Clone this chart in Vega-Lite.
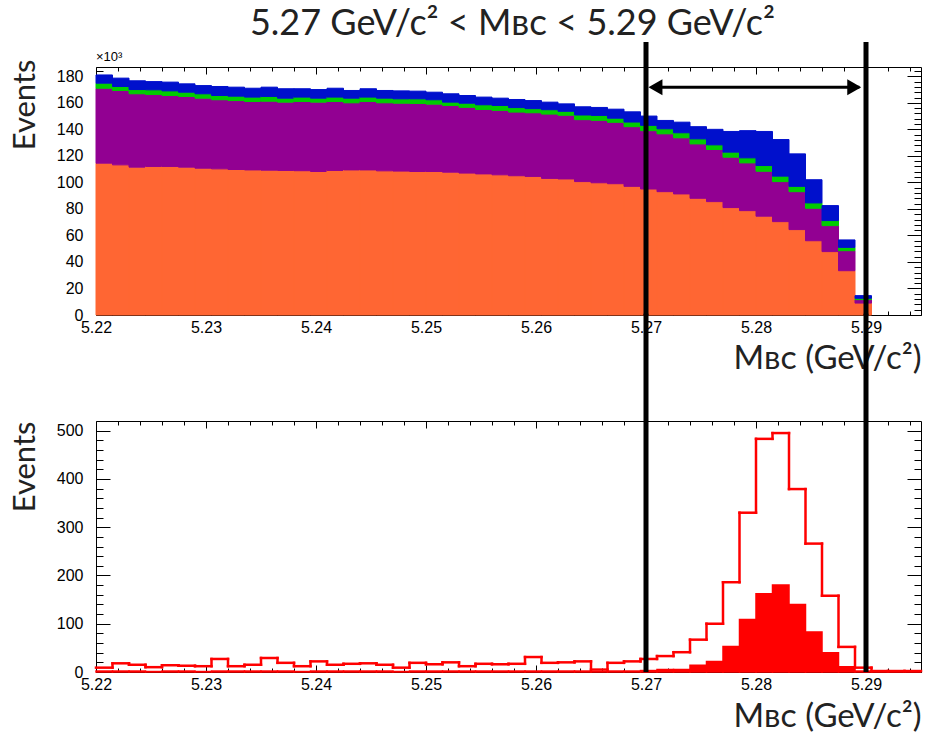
{
  "$schema": "https://vega.github.io/schema/vega-lite/v6.json",
  "background": "white",
  "padding": {"left": 9, "top": 5, "right": 0, "bottom": 0},
  "autosize": {"type": "pad"},
  "bounds": "flush",
  "spacing": 106,
  "title": {"text": "5.27 GeV/c² < Mʙᴄ < 5.29 GeV/c²", "font": "Lato", "fontSize": 36, "fontWeight": "normal", "color": "#222222", "anchor": "middle", "frame": "group", "offset": -3, "dx": 4},
  "config": {
    "view": {"stroke": null},
    "axis": {"labelFont": "Liberation Sans", "labelFontSize": 16, "labelColor": "black", "domainColor": "black", "domainWidth": 1, "tickColor": "black", "tickWidth": 1, "labelFlush": false, "labelOverlap": false, "grid": false, "zindex": 1, "titleFont": "Lato", "titleFontWeight": "normal", "titleColor": "#222222"}
  },
  "datasets": {
    "top": [
      {"lo": 5.22, "hi": 5.2215, "s1_orange": 114.5, "s2_purple": 56.5, "s3_green": 3.8, "s4_blue": 6.2},
      {"lo": 5.2215, "hi": 5.223, "s1_orange": 113.2, "s2_purple": 56.1, "s3_green": 3.0, "s4_blue": 6.3},
      {"lo": 5.223, "hi": 5.2245, "s1_orange": 111.5, "s2_purple": 55.3, "s3_green": 3.2, "s4_blue": 6.6},
      {"lo": 5.2245, "hi": 5.226, "s1_orange": 112.0, "s2_purple": 54.3, "s3_green": 3.5, "s4_blue": 6.2},
      {"lo": 5.226, "hi": 5.2275, "s1_orange": 112.0, "s2_purple": 53.5, "s3_green": 3.5, "s4_blue": 6.6},
      {"lo": 5.2275, "hi": 5.229, "s1_orange": 111.5, "s2_purple": 53.3, "s3_green": 3.2, "s4_blue": 6.3},
      {"lo": 5.229, "hi": 5.2305, "s1_orange": 110.7, "s2_purple": 52.8, "s3_green": 3.3, "s4_blue": 6.2},
      {"lo": 5.2305, "hi": 5.232, "s1_orange": 110.2, "s2_purple": 52.1, "s3_green": 3.2, "s4_blue": 6.8},
      {"lo": 5.232, "hi": 5.2335, "s1_orange": 109.7, "s2_purple": 52.0, "s3_green": 3.3, "s4_blue": 6.8},
      {"lo": 5.2335, "hi": 5.235, "s1_orange": 109.4, "s2_purple": 51.6, "s3_green": 3.3, "s4_blue": 6.7},
      {"lo": 5.235, "hi": 5.2365, "s1_orange": 109.2, "s2_purple": 52.0, "s3_green": 3.6, "s4_blue": 7.0},
      {"lo": 5.2365, "hi": 5.238, "s1_orange": 109.0, "s2_purple": 51.5, "s3_green": 3.0, "s4_blue": 7.1},
      {"lo": 5.238, "hi": 5.2395, "s1_orange": 108.8, "s2_purple": 52.2, "s3_green": 3.3, "s4_blue": 6.3},
      {"lo": 5.2395, "hi": 5.241, "s1_orange": 108.2, "s2_purple": 52.3, "s3_green": 3.0, "s4_blue": 6.5},
      {"lo": 5.241, "hi": 5.2425, "s1_orange": 109.0, "s2_purple": 52.0, "s3_green": 3.3, "s4_blue": 6.7},
      {"lo": 5.2425, "hi": 5.244, "s1_orange": 109.4, "s2_purple": 50.6, "s3_green": 3.5, "s4_blue": 5.8},
      {"lo": 5.244, "hi": 5.2455, "s1_orange": 109.4, "s2_purple": 51.6, "s3_green": 3.3, "s4_blue": 6.3},
      {"lo": 5.2455, "hi": 5.247, "s1_orange": 108.7, "s2_purple": 51.3, "s3_green": 3.5, "s4_blue": 5.8},
      {"lo": 5.247, "hi": 5.2485, "s1_orange": 108.5, "s2_purple": 51.2, "s3_green": 3.3, "s4_blue": 6.0},
      {"lo": 5.2485, "hi": 5.25, "s1_orange": 108.2, "s2_purple": 51.3, "s3_green": 3.5, "s4_blue": 5.8},
      {"lo": 5.25, "hi": 5.2515, "s1_orange": 108.2, "s2_purple": 50.8, "s3_green": 3.3, "s4_blue": 5.7},
      {"lo": 5.2515, "hi": 5.253, "s1_orange": 107.7, "s2_purple": 50.3, "s3_green": 2.5, "s4_blue": 6.3},
      {"lo": 5.253, "hi": 5.2545, "s1_orange": 107.0, "s2_purple": 49.6, "s3_green": 3.1, "s4_blue": 5.8},
      {"lo": 5.2545, "hi": 5.256, "s1_orange": 106.4, "s2_purple": 48.6, "s3_green": 3.5, "s4_blue": 5.8},
      {"lo": 5.256, "hi": 5.2575, "s1_orange": 105.7, "s2_purple": 48.6, "s3_green": 3.7, "s4_blue": 5.5},
      {"lo": 5.2575, "hi": 5.259, "s1_orange": 105.0, "s2_purple": 48.0, "s3_green": 3.4, "s4_blue": 6.1},
      {"lo": 5.259, "hi": 5.2605, "s1_orange": 104.5, "s2_purple": 48.0, "s3_green": 3.1, "s4_blue": 6.1},
      {"lo": 5.2605, "hi": 5.262, "s1_orange": 103.0, "s2_purple": 48.5, "s3_green": 3.3, "s4_blue": 5.7},
      {"lo": 5.262, "hi": 5.2635, "s1_orange": 102.6, "s2_purple": 48.0, "s3_green": 3.0, "s4_blue": 5.6},
      {"lo": 5.2635, "hi": 5.265, "s1_orange": 100.6, "s2_purple": 46.7, "s3_green": 3.5, "s4_blue": 6.2},
      {"lo": 5.265, "hi": 5.2665, "s1_orange": 99.7, "s2_purple": 47.1, "s3_green": 3.7, "s4_blue": 6.0},
      {"lo": 5.2665, "hi": 5.268, "s1_orange": 99.0, "s2_purple": 46.3, "s3_green": 3.1, "s4_blue": 6.8},
      {"lo": 5.268, "hi": 5.2695, "s1_orange": 97.0, "s2_purple": 45.0, "s3_green": 3.5, "s4_blue": 7.7},
      {"lo": 5.2695, "hi": 5.271, "s1_orange": 95.0, "s2_purple": 44.0, "s3_green": 4.0, "s4_blue": 7.0},
      {"lo": 5.271, "hi": 5.2725, "s1_orange": 93.0, "s2_purple": 43.6, "s3_green": 3.8, "s4_blue": 6.3},
      {"lo": 5.2725, "hi": 5.274, "s1_orange": 91.3, "s2_purple": 42.3, "s3_green": 3.8, "s4_blue": 8.0},
      {"lo": 5.274, "hi": 5.2755, "s1_orange": 88.0, "s2_purple": 41.0, "s3_green": 3.8, "s4_blue": 9.2},
      {"lo": 5.2755, "hi": 5.277, "s1_orange": 85.5, "s2_purple": 39.3, "s3_green": 3.5, "s4_blue": 11.7},
      {"lo": 5.277, "hi": 5.2785, "s1_orange": 81.0, "s2_purple": 38.0, "s3_green": 3.8, "s4_blue": 15.6},
      {"lo": 5.2785, "hi": 5.28, "s1_orange": 78.7, "s2_purple": 36.0, "s3_green": 3.8, "s4_blue": 20.5},
      {"lo": 5.28, "hi": 5.2815, "s1_orange": 74.5, "s2_purple": 33.9, "s3_green": 4.3, "s4_blue": 25.7},
      {"lo": 5.2815, "hi": 5.283, "s1_orange": 70.4, "s2_purple": 30.2, "s3_green": 4.1, "s4_blue": 27.6},
      {"lo": 5.283, "hi": 5.2845, "s1_orange": 64.4, "s2_purple": 28.6, "s3_green": 4.0, "s4_blue": 24.5},
      {"lo": 5.2845, "hi": 5.286, "s1_orange": 56.0, "s2_purple": 24.5, "s3_green": 4.0, "s4_blue": 17.5},
      {"lo": 5.286, "hi": 5.2875, "s1_orange": 47.8, "s2_purple": 19.6, "s3_green": 3.8, "s4_blue": 11.3},
      {"lo": 5.2875, "hi": 5.289, "s1_orange": 33.4, "s2_purple": 15.1, "s3_green": 2.5, "s4_blue": 5.6},
      {"lo": 5.289, "hi": 5.2905, "s1_orange": 9.0, "s2_purple": 2.6, "s3_green": 1.0, "s4_blue": 2.0}
    ],
    "bottom": [
      {"lo": 5.22, "hi": 5.2215, "all": 9, "sig": 2},
      {"lo": 5.2215, "hi": 5.223, "all": 18, "sig": 2},
      {"lo": 5.223, "hi": 5.2245, "all": 15, "sig": 2},
      {"lo": 5.2245, "hi": 5.226, "all": 10, "sig": 1},
      {"lo": 5.226, "hi": 5.2275, "all": 14, "sig": 2},
      {"lo": 5.2275, "hi": 5.229, "all": 13, "sig": 2},
      {"lo": 5.229, "hi": 5.2305, "all": 12, "sig": 1},
      {"lo": 5.2305, "hi": 5.232, "all": 27, "sig": 2},
      {"lo": 5.232, "hi": 5.2335, "all": 12, "sig": 2},
      {"lo": 5.2335, "hi": 5.235, "all": 15, "sig": 2},
      {"lo": 5.235, "hi": 5.2365, "all": 29, "sig": 2},
      {"lo": 5.2365, "hi": 5.238, "all": 19, "sig": 2},
      {"lo": 5.238, "hi": 5.2395, "all": 12, "sig": 1},
      {"lo": 5.2395, "hi": 5.241, "all": 22, "sig": 2},
      {"lo": 5.241, "hi": 5.2425, "all": 15, "sig": 2},
      {"lo": 5.2425, "hi": 5.244, "all": 17, "sig": 2},
      {"lo": 5.244, "hi": 5.2455, "all": 18, "sig": 2},
      {"lo": 5.2455, "hi": 5.247, "all": 15, "sig": 2},
      {"lo": 5.247, "hi": 5.2485, "all": 9, "sig": 1},
      {"lo": 5.2485, "hi": 5.25, "all": 19, "sig": 2},
      {"lo": 5.25, "hi": 5.2515, "all": 16, "sig": 2},
      {"lo": 5.2515, "hi": 5.253, "all": 20, "sig": 2},
      {"lo": 5.253, "hi": 5.2545, "all": 12, "sig": 2},
      {"lo": 5.2545, "hi": 5.256, "all": 17, "sig": 2},
      {"lo": 5.256, "hi": 5.2575, "all": 16, "sig": 2},
      {"lo": 5.2575, "hi": 5.259, "all": 17, "sig": 2},
      {"lo": 5.259, "hi": 5.2605, "all": 31, "sig": 2},
      {"lo": 5.2605, "hi": 5.262, "all": 19, "sig": 2},
      {"lo": 5.262, "hi": 5.2635, "all": 20, "sig": 2},
      {"lo": 5.2635, "hi": 5.265, "all": 22, "sig": 2},
      {"lo": 5.265, "hi": 5.2665, "all": 5, "sig": 1},
      {"lo": 5.2665, "hi": 5.268, "all": 19, "sig": 2},
      {"lo": 5.268, "hi": 5.2695, "all": 22, "sig": 2},
      {"lo": 5.2695, "hi": 5.271, "all": 27, "sig": 3},
      {"lo": 5.271, "hi": 5.2725, "all": 33, "sig": 5},
      {"lo": 5.2725, "hi": 5.274, "all": 41, "sig": 5},
      {"lo": 5.274, "hi": 5.2755, "all": 67, "sig": 14},
      {"lo": 5.2755, "hi": 5.277, "all": 100, "sig": 22},
      {"lo": 5.277, "hi": 5.2785, "all": 186, "sig": 53},
      {"lo": 5.2785, "hi": 5.28, "all": 330, "sig": 109},
      {"lo": 5.28, "hi": 5.2815, "all": 483, "sig": 162},
      {"lo": 5.2815, "hi": 5.283, "all": 495, "sig": 180},
      {"lo": 5.283, "hi": 5.2845, "all": 379, "sig": 140},
      {"lo": 5.2845, "hi": 5.286, "all": 266, "sig": 83},
      {"lo": 5.286, "hi": 5.2875, "all": 158, "sig": 40},
      {"lo": 5.2875, "hi": 5.289, "all": 52, "sig": 11},
      {"lo": 5.289, "hi": 5.2905, "all": 9, "sig": 2},
      {"lo": 5.2905, "hi": 5.292, "all": 2, "sig": 0},
      {"lo": 5.292, "hi": 5.2935, "all": 2, "sig": 0},
      {"lo": 5.2935, "hi": 5.295, "all": 2, "sig": 0}
    ]
  },
  "vconcat": [
    {
      "width": 825,
      "height": 248,
      "resolve": {"axis": {"x": "independent", "y": "independent"}},
      "layer": [
        {
          "data": {"name": "top"},
          "transform": [
            {"fold": ["s1_orange", "s2_purple", "s3_green", "s4_blue"], "as": ["comp", "n"]},
            {"stack": "n", "groupby": ["lo"], "sort": [{"field": "comp", "order": "ascending"}], "as": ["n0", "n1"]}
          ],
          "mark": {"type": "rect", "strokeWidth": 1, "opacity": 1, "fillOpacity": 1, "strokeOpacity": 1},
          "encoding": {
            "x": {"field": "lo", "type": "quantitative", "scale": {"domain": [5.22, 5.295], "nice": false, "zero": false},
              "axis": {"orient": "bottom", "values": [5.22, 5.23, 5.24, 5.25, 5.26, 5.27, 5.28, 5.29], "format": ".2f", "tickSize": -7, "labelPadding": 11, "title": "Mʙᴄ (GeV/c²)", "titleAnchor": "end", "titleFontSize": 33, "titlePadding": 7}},
            "x2": {"field": "hi"},
            "y": {"field": "n1", "type": "quantitative", "scale": {"domain": [0, 187], "nice": false},
              "axis": {"orient": "left", "values": [0, 20, 40, 60, 80, 100, 120, 140, 160, 180], "format": "d", "tickSize": -14, "labelPadding": 27, "title": "Events", "titleAnchor": "end", "titleY": -8, "titleFontSize": 31, "titlePadding": 15}},
            "y2": {"field": "n0"},
            "fill": {"field": "comp", "type": "nominal", "scale": {"domain": ["s1_orange", "s2_purple", "s3_green", "s4_blue"], "range": ["#FF6633", "#920092", "#00CC00", "#0010CC"]}, "legend": null},
            "stroke": {"field": "comp", "type": "nominal", "scale": {"domain": ["s1_orange", "s2_purple", "s3_green", "s4_blue"], "range": ["#FF6633", "#920092", "#00CC00", "#0010CC"]}, "legend": null}
          }
        },
        {
          "data": {"values": [{"m": 5.27}, {"m": 5.29}]},
          "mark": {"type": "rule", "strokeWidth": 5, "color": "black"},
          "encoding": {
            "x": {"field": "m", "type": "quantitative",
              "axis": {"orient": "bottom", "values": [5.222, 5.224, 5.226, 5.228, 5.232, 5.234, 5.236, 5.238, 5.242, 5.244, 5.246, 5.248, 5.252, 5.254, 5.256, 5.258, 5.262, 5.264, 5.266, 5.268, 5.272, 5.274, 5.276, 5.278, 5.282, 5.284, 5.286, 5.288, 5.292, 5.294], "tickSize": -4, "labels": false, "domain": false, "title": null}},
            "y": {"datum": 205.8, "type": "quantitative",
              "axis": {"orient": "left", "values": [4, 8, 12, 16, 24, 28, 32, 36, 44, 48, 52, 56, 64, 68, 72, 76, 84, 88, 92, 96, 104, 108, 112, 116, 124, 128, 132, 136, 144, 148, 152, 156, 164, 168, 172, 176, 184], "tickSize": -7, "labels": false, "domain": false, "title": null}},
            "y2": {"datum": 0}
          }
        },
        {
          "data": {"values": [{"a": 5.2706, "b": 5.2894}]},
          "mark": {"type": "rule", "strokeWidth": 3, "color": "black"},
          "encoding": {
            "x": {"field": "a", "type": "quantitative",
              "axis": {"orient": "top", "values": [5.22, 5.23, 5.24, 5.25, 5.26, 5.27, 5.28, 5.29], "tickSize": -7, "labels": false, "title": null}},
            "x2": {"field": "b"},
            "y": {"datum": 171.7, "type": "quantitative",
              "axis": {"orient": "right", "values": [0, 20, 40, 60, 80, 100, 120, 140, 160, 180], "tickSize": -14, "labels": false, "title": null}}
          }
        },
        {
          "data": {"values": [{"a": 5.27086, "dir": "left"}, {"a": 5.28893, "dir": "right"}]},
          "mark": {"type": "point", "filled": true, "size": 260, "color": "black", "opacity": 1},
          "encoding": {
            "x": {"field": "a", "type": "quantitative",
              "axis": {"orient": "top", "values": [5.222, 5.224, 5.226, 5.228, 5.232, 5.234, 5.236, 5.238, 5.242, 5.244, 5.246, 5.248, 5.252, 5.254, 5.256, 5.258, 5.262, 5.264, 5.266, 5.268, 5.272, 5.274, 5.276, 5.278, 5.282, 5.284, 5.286, 5.288, 5.292, 5.294], "tickSize": -4, "labels": false, "domain": false, "title": null}},
            "y": {"datum": 171.7, "type": "quantitative",
              "axis": {"orient": "right", "values": [4, 8, 12, 16, 24, 28, 32, 36, 44, 48, 52, 56, 64, 68, 72, 76, 84, 88, 92, 96, 104, 108, 112, 116, 124, 128, 132, 136, 144, 148, 152, 156, 164, 168, 172, 176, 184], "tickSize": -7, "labels": false, "domain": false, "title": null}},
            "shape": {"field": "dir", "type": "nominal", "scale": {"domain": ["left", "right"], "range": ["triangle-left", "triangle-right"]}, "legend": null}
          }
        },
        {
          "data": {"values": [{"label": "×10³"}]},
          "mark": {"type": "text", "align": "left", "baseline": "bottom", "dy": -3, "fontSize": 13, "font": "Liberation Sans", "color": "black"},
          "encoding": {
            "x": {"datum": 5.22, "type": "quantitative", "axis": null},
            "y": {"datum": 187, "type": "quantitative", "axis": null},
            "text": {"field": "label"}
          }
        }
      ]
    },
    {
      "width": 825,
      "height": 251,
      "resolve": {"axis": {"x": "independent", "y": "independent"}},
      "layer": [
        {
          "data": {"name": "bottom"},
          "mark": {"type": "rect", "color": "#FF0000", "stroke": "#FF0000", "strokeWidth": 1.5},
          "encoding": {
            "x": {"field": "lo", "type": "quantitative", "scale": {"domain": [5.22, 5.295], "nice": false, "zero": false},
              "axis": {"orient": "bottom", "values": [5.22, 5.23, 5.24, 5.25, 5.26, 5.27, 5.28, 5.29], "format": ".2f", "tickSize": -7, "labelPadding": 11, "title": "Mʙᴄ (GeV/c²)", "titleAnchor": "end", "titleFontSize": 33, "titlePadding": 8}},
            "x2": {"field": "hi"},
            "y": {"field": "sig", "type": "quantitative", "scale": {"domain": [0, 520], "nice": false},
              "axis": {"orient": "left", "values": [0, 100, 200, 300, 400, 500], "format": "d", "tickSize": -14, "labelPadding": 27, "title": "Events", "titleAnchor": "end", "titleFontSize": 31, "titlePadding": 15}},
            "y2": {"datum": 0}
          }
        },
        {
          "data": {"name": "bottom"},
          "mark": {"type": "rule", "color": "#FF0000", "strokeWidth": 2.5, "strokeCap": "square"},
          "encoding": {
            "x": {"field": "lo", "type": "quantitative",
              "axis": {"orient": "bottom", "values": [5.222, 5.224, 5.226, 5.228, 5.232, 5.234, 5.236, 5.238, 5.242, 5.244, 5.246, 5.248, 5.252, 5.254, 5.256, 5.258, 5.262, 5.264, 5.266, 5.268, 5.272, 5.274, 5.276, 5.278, 5.282, 5.284, 5.286, 5.288, 5.292, 5.294], "tickSize": -4, "labels": false, "domain": false, "title": null}},
            "x2": {"field": "hi"},
            "y": {"field": "all", "type": "quantitative",
              "axis": {"orient": "left", "values": [20, 40, 60, 80, 120, 140, 160, 180, 220, 240, 260, 280, 320, 340, 360, 380, 420, 440, 460, 480], "tickSize": -7, "labels": false, "domain": false, "title": null}}
          }
        },
        {
          "data": {"name": "bottom"},
          "transform": [
            {"window": [{"op": "lag", "field": "all", "as": "prev"}], "sort": [{"field": "lo", "order": "ascending"}]},
            {"filter": "datum.prev != null"}
          ],
          "mark": {"type": "rule", "color": "#FF0000", "strokeWidth": 2.5, "strokeCap": "square"},
          "encoding": {
            "x": {"field": "lo", "type": "quantitative",
              "axis": {"orient": "top", "values": [5.22, 5.23, 5.24, 5.25, 5.26, 5.27, 5.28, 5.29], "tickSize": -7, "labels": false, "title": null}},
            "y": {"field": "all", "type": "quantitative",
              "axis": {"orient": "right", "values": [0, 100, 200, 300, 400, 500], "tickSize": -14, "labels": false, "title": null}},
            "y2": {"field": "prev"}
          }
        },
        {
          "data": {"values": [{"m": 5.27}, {"m": 5.29}]},
          "mark": {"type": "rule", "strokeWidth": 5, "color": "black"},
          "encoding": {
            "x": {"field": "m", "type": "quantitative",
              "axis": {"orient": "top", "values": [5.222, 5.224, 5.226, 5.228, 5.232, 5.234, 5.236, 5.238, 5.242, 5.244, 5.246, 5.248, 5.252, 5.254, 5.256, 5.258, 5.262, 5.264, 5.266, 5.268, 5.272, 5.274, 5.276, 5.278, 5.282, 5.284, 5.286, 5.288, 5.292, 5.294], "tickSize": -4, "labels": false, "domain": false, "title": null}},
            "y": {"datum": 742, "type": "quantitative",
              "axis": {"orient": "right", "values": [20, 40, 60, 80, 120, 140, 160, 180, 220, 240, 260, 280, 320, 340, 360, 380, 420, 440, 460, 480], "tickSize": -7, "labels": false, "domain": false, "title": null}},
            "y2": {"datum": 0}
          }
        }
      ]
    }
  ]
}
